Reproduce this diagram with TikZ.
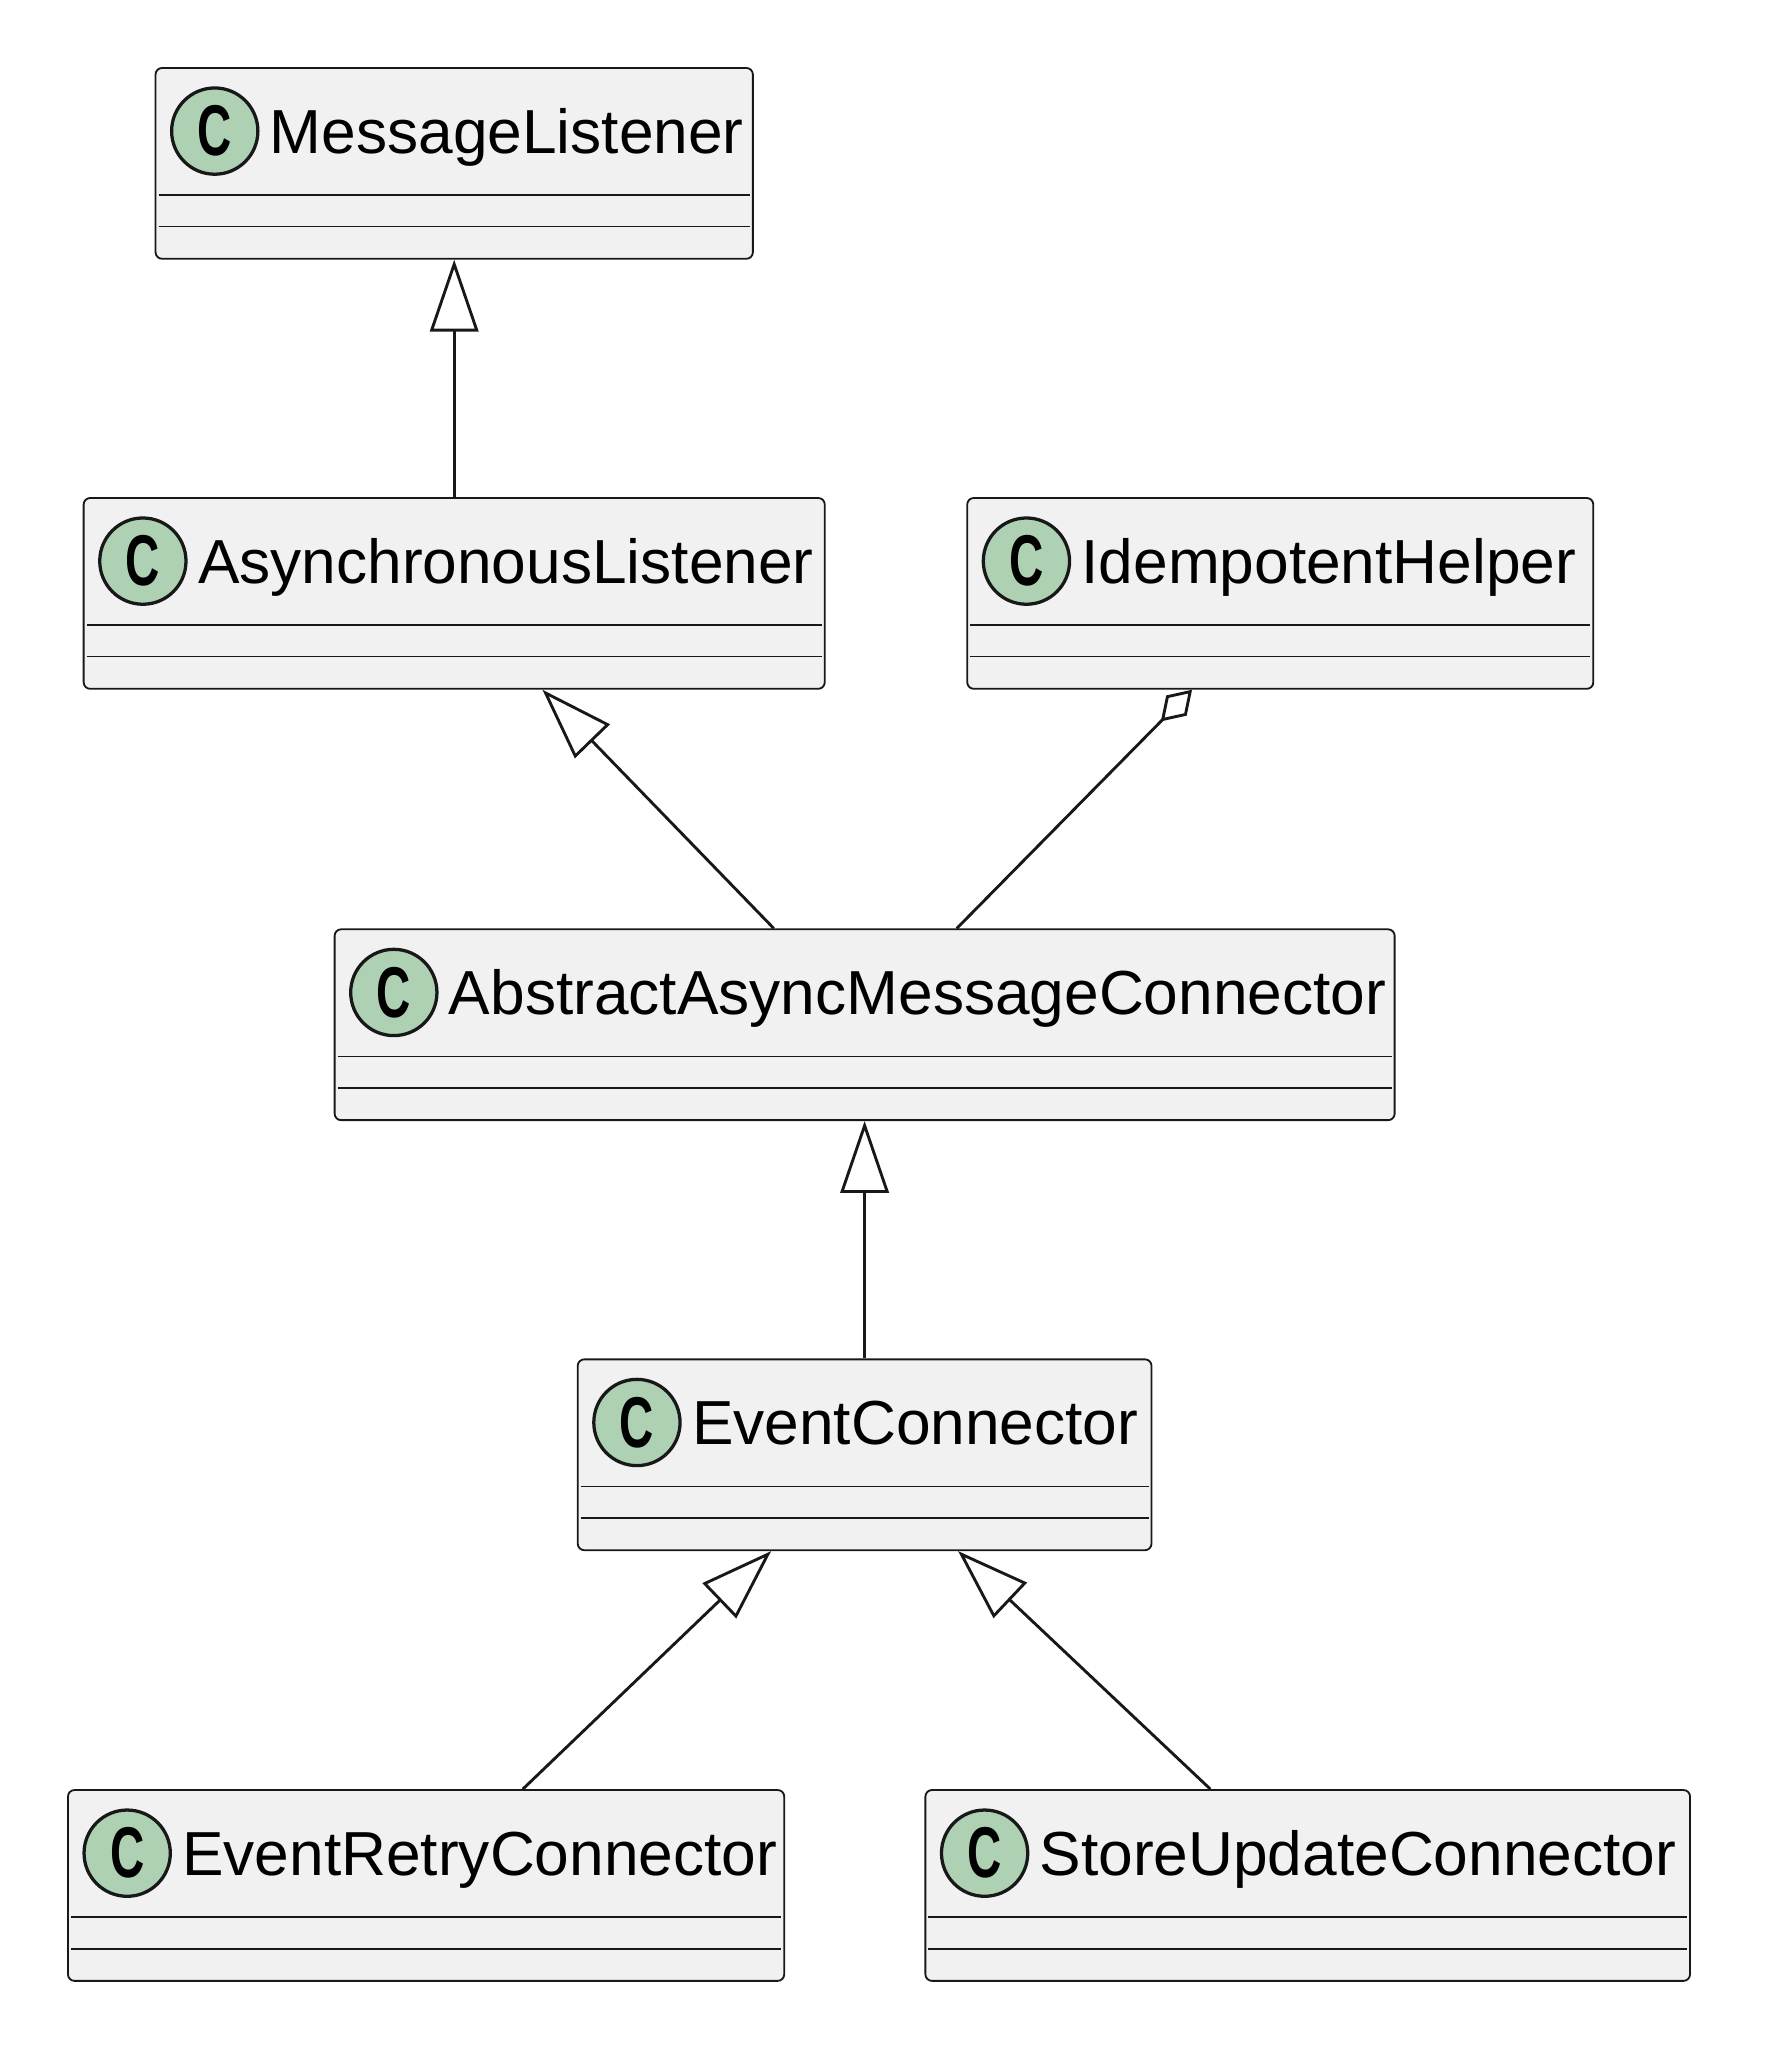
\documentclass[tikz,border=0pt]{standalone}
\usepackage{fontspec}
\setmainfont{Liberation Sans}
\usepackage{xcolor}
\usepackage{tikz}
\usetikzlibrary{arrows.meta}
\usetikzlibrary{shapes,positioning,calc}

\definecolor{boxfill}{HTML}{F1F1F1}
\definecolor{boxline}{HTML}{181818}
\definecolor{spotfill}{HTML}{ADD1B2}

\tikzset{
  classbox/.style={draw=boxline, fill=boxfill, line width=1.4pt, rounded corners=5pt,
    minimum height=146pt, inner sep=0pt},
  spot/.style={circle, draw=boxline, fill=spotfill, line width=2.5pt, minimum size=66pt,
    inner sep=0pt, font=\bfseries\fontsize{55pt}{55pt}\selectfont},
  title/.style={anchor=base west, inner sep=0pt, font=\fontsize{47.6pt}{56pt}\selectfont},
  sep/.style={draw=boxline, line width=1.4pt},
  link/.style={draw=boxline, line width=2.2pt},
  extends/.style={link, -{Triangle[length=55pt, width=37pt, fill=white, line width=2.2pt]}},
  aggr/.style={link, -{Diamond[length=34pt, width=22pt, fill=white, line width=2.2pt]}}
}

\begin{document}
\begin{tikzpicture}[x=1pt, y=-1pt]
			\useasboundingbox (0,0) rectangle (1349.6,1573);
			% classes
			\node[classbox, minimum width=457pt] (ml) at (347.5,125) {};
			\node[classbox, minimum width=567pt] (al) at (347.5,454) {};
			\node[classbox, minimum width=479pt] (ih) at (979.5,454) {};
			\node[classbox, minimum width=811pt] (aamc) at (661.5,784) {};
			\node[classbox, minimum width=439pt] (ec) at (661.5,1113) {};
			\node[classbox, minimum width=548pt] (erc) at (326,1442.5) {};
			\node[classbox, minimum width=585pt] (suc) at (1000.5,1442.5) {};
			\foreach \c/\t in {ml/MessageListener, al/AsynchronousListener, ih/IdempotentHelper,
			    aamc/AbstractAsyncMessageConnector, ec/EventConnector,
			    erc/EventRetryConnector, suc/StoreUpdateConnector} {
				\node[spot] (\c S) at ([xshift=46pt, yshift=-49pt]\c.north west) {\scalebox{0.66}[1]{C}};
				\node[title] (\c T) at ([xshift=88pt, yshift=-66pt]\c.north west) {\t};
				\draw[sep] ([xshift=3pt, yshift=-98pt]\c.north west) -- ([xshift=-3pt, yshift=-98pt]\c.north east);
				\draw[sep] ([xshift=3pt, yshift=-122pt]\c.north west) -- ([xshift=-3pt, yshift=-122pt]\c.north east);
			}
			% relations
			\draw[extends] (al.north) -- (ml.south);
			\draw[extends] ([xshift=-69.5pt]aamc.north) -- ([xshift=67.5pt]al.south);
			\draw[aggr] ([xshift=70.5pt]aamc.north) -- ([xshift=-67.5pt]ih.south);
			\draw[extends] (ec.north) -- (aamc.south);
			\draw[extends] ([xshift=74pt]erc.north) -- ([xshift=-71.5pt]ec.south);
			\draw[extends] ([xshift=-74.5pt]suc.north) -- ([xshift=71.5pt]ec.south);
		\end{tikzpicture}
\end{document}
